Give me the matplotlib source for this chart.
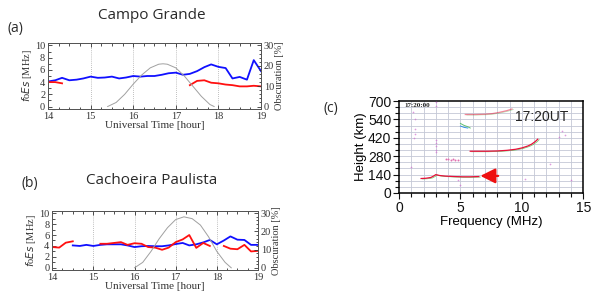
import numpy as np
import matplotlib
matplotlib.use("Agg")
import matplotlib.pyplot as plt
from matplotlib.ticker import MultipleLocator

SERIF = "Liberation Serif"
SANS = "Liberation Sans"
TITLE = "Open Sans"

# ── Panel (a): Campo Grande ───────────────────────────────────────────────────
t_a_blue = [14.0, 14.17, 14.33, 14.5, 14.67, 14.83, 15.0, 15.17, 15.33, 15.5,
            15.67, 15.83, 16.0, 16.17, 16.33, 16.5, 16.67, 16.83, 17.0, 17.17,
            17.33, 17.5, 17.67, 17.83, 18.0, 18.17, 18.33, 18.5, 18.67, 18.83, 19.0]
fo_a_blue = [4.1, 4.3, 4.7, 4.3, 4.4, 4.6, 4.9, 4.7, 4.75, 4.9,
             4.6, 4.75, 5.0, 4.9, 5.0, 5.0, 5.2, 5.45, 5.55, 5.2,
             5.35, 5.8, 6.45, 6.9, 6.5, 6.3, 4.6, 4.85, 4.4, 7.6, 5.8]
t_a_red1 = [14.0, 14.17, 14.33]
fo_a_red1 = [4.0, 4.0, 3.8]
t_a_red2 = [17.33, 17.5, 17.67, 17.83, 18.0, 18.17, 18.33, 18.5, 18.67, 18.83, 19.0]
fo_a_red2 = [3.5, 4.2, 4.3, 3.9, 3.8, 3.6, 3.5, 3.3, 3.3, 3.4, 3.3]
t_a_obs = [15.4, 15.6, 15.8, 16.0, 16.2, 16.4, 16.6, 16.7, 16.8, 17.0,
           17.2, 17.4, 17.6, 17.8, 17.9]
obs_a = [0, 2, 6, 11, 15.5, 19, 20.8, 21, 20.8, 19,
         15, 10, 5, 1, 0]

# ── Panel (b): Cachoeira Paulista ─────────────────────────────────────────────
t_b_red1 = [14.0, 14.17, 14.33, 14.5]
fo_b_red1 = [3.8, 3.7, 4.6, 4.85]
t_b_red2 = [15.17, 15.33, 15.5, 15.67, 15.83, 16.0, 16.17, 16.33, 16.5, 16.67,
            16.83, 17.0, 17.17, 17.33, 17.5, 17.67, 17.83]
fo_b_red2 = [4.4, 4.4, 4.55, 4.7, 4.2, 4.5, 4.4, 3.8, 3.7, 3.3,
             3.7, 4.7, 5.2, 6.0, 3.65, 4.55, 4.0]
t_b_red3 = [18.17, 18.33, 18.5, 18.67, 18.83, 19.0]
fo_b_red3 = [4.0, 3.5, 3.4, 4.2, 3.0, 3.1]
t_b_blue = [14.5, 14.67, 14.83, 15.0, 15.17, 15.33, 15.5, 15.67, 15.83, 16.0,
            16.17, 16.33, 16.5, 16.67, 16.83, 17.0, 17.17, 17.33, 17.5, 17.67,
            17.83, 18.0, 18.17, 18.33, 18.5, 18.67, 18.83, 19.0]
fo_b_blue = [4.1, 4.0, 4.2, 4.0, 4.2, 4.3, 4.3, 4.3, 4.1, 3.8,
             3.95, 4.0, 3.95, 3.95, 4.1, 4.35, 4.55, 4.1, 4.3, 4.65,
             5.1, 4.3, 5.0, 5.75, 5.15, 5.1, 4.2, 4.2]
t_b_obs = [16.0, 16.2, 16.4, 16.6, 16.8, 17.0, 17.2, 17.4, 17.6, 17.8,
           18.0, 18.2, 18.35]
obs_b = [0, 3, 9, 16, 22, 26.5, 28, 27, 23.5, 17,
         9, 3, 0]

# ── Panel (c): ionogram traces (frequency MHz, virtual height km) ─────────────
es_f = [1.8, 2.2, 2.6, 2.8, 3.0, 3.3, 3.8, 4.5, 5.2, 5.8, 6.5]
es_h = [110, 112, 118, 128, 140, 133, 128, 125, 123, 123, 125]
f_f = [5.8, 6.5, 7.2, 8.0, 8.8, 9.5, 10.0, 10.5, 10.8, 11.1, 11.3]
f_h = [318, 318, 318, 320, 325, 333, 343, 358, 372, 392, 410]
top_f = [5.4, 6.2, 7.0, 7.6, 8.2, 8.8, 9.2]
top_h = [598, 598, 600, 605, 615, 628, 640]
hop_f = [5.0, 5.3, 5.6, 5.8]
hop_h = [530, 515, 505, 495]
hop2_f = [5.0, 5.3, 5.6]
hop2_h = [510, 500, 495]
blob_f = [3.8, 4.0, 4.2, 4.4, 4.6, 4.8]
blob_h = [255, 258, 252, 256, 250, 248]
noise_f = [1.2, 1.3, 1.3, 1.3, 3.0, 3.0, 3.0, 3.0, 3.0, 3.0, 1.0, 1.1, 13.0,
           13.3, 13.5, 14.0, 4.8, 10.3, 12.3, 3.0, 5.0]
noise_h = [420, 450, 490, 560, 310, 330, 360, 380, 400, 690, 200, 620, 430,
           470, 440, 100, 100, 110, 220, 660, 60]

fig = plt.figure(figsize=(6.0, 3.01), dpi=100, facecolor="white")


def station_panel(rect, title, tag, title_y, tag_xy, blue, reds, obs):
    ax = fig.add_axes(rect)
    ax2 = ax.twinx()
    ax.plot(*blue, color="#1010ff", lw=1.3, zorder=4)
    for r in reds:
        ax.plot(*r, color="#ff1010", lw=1.3, zorder=4)
    ax2.plot(*obs, color="#a0a0a0", lw=0.7)
    for xv in [15, 16, 17, 18]:
        ax.axvline(xv, color="#aaaaaa", lw=0.6, ls=(0, (1, 1.5)), zorder=1)
    ax.set_xlim(14, 19)
    ax.set_ylim(-0.4, 10.4)
    ax2.set_ylim(-1.2, 31.2)
    ax.set_xticks([14, 15, 16, 17, 18, 19])
    ax.xaxis.set_minor_locator(MultipleLocator(0.25))
    ax.set_yticks([0, 2, 4, 6, 8, 10])
    ax.yaxis.set_minor_locator(MultipleLocator(1))
    ax2.set_yticks([0, 10, 20, 30])
    ax2.yaxis.set_minor_locator(MultipleLocator(2))
    for a in (ax, ax2):
        a.tick_params(which="both", direction="in", labelsize=7.5, pad=2,
                      colors="#333333", width=0.6)
        a.tick_params(which="major", length=3)
        a.tick_params(which="minor", length=1.8)
        for s in a.spines.values():
            s.set_color("#555555")
            s.set_linewidth(0.7)
        for lbl in a.get_xticklabels() + a.get_yticklabels():
            lbl.set_family(SERIF)
    ax.tick_params(axis="x", which="both", top=True)
    ax.set_xlabel("Universal Time [hour]", family=SERIF, fontsize=8,
                  color="#333333", labelpad=0)
    ax.set_ylabel("$f$o$Es$ [MHz]", family=SERIF, fontsize=7.5,
                  color="#333333", labelpad=1)
    ax2.set_ylabel("Obscuration [%]", family=SERIF, fontsize=7.5,
                   color="#333333", labelpad=1)
    fig.text(0.253, title_y, title, family=TITLE, fontsize=11,
             color="#2a2a2a", ha="center", va="center")
    fig.text(tag_xy[0], tag_xy[1], tag, family=TITLE, fontsize=10,
             color="#2a2a2a", ha="left", va="center")
    return ax


station_panel([0.08, 0.638, 0.355, 0.219], "Campo Grande", "(a)",
              0.95, (0.012, 0.905),
              (t_a_blue, fo_a_blue),
              [(t_a_red1, fo_a_red1), (t_a_red2, fo_a_red2)],
              (t_a_obs, obs_a))

station_panel([0.087, 0.103, 0.343, 0.196], "Cachoeira Paulista", "(b)",
              0.40, (0.035, 0.39),
              (t_b_blue, fo_b_blue),
              [(t_b_red1, fo_b_red1), (t_b_red2, fo_b_red2), (t_b_red3, fo_b_red3)],
              (t_b_obs, obs_b))

# ── Panel (c) ─────────────────────────────────────────────────────────────────
axc = fig.add_axes([0.665, 0.359, 0.307, 0.305])
axc.set_xlim(0, 15)
axc.set_ylim(0, 700)
for xv in np.arange(1, 15):
    axc.axvline(xv, color="#c4c8d6", lw=0.6, zorder=0)
for yv in np.arange(1, 15) * 140 / 3:
    axc.axhline(yv, color="#c4c8d6", lw=0.6, zorder=0)

for fx, hy, a in [(es_f, es_h, 1.0), (f_f, f_h, 1.0), (top_f, top_h, 0.5)]:
    axc.plot(fx, hy, color="#e8103a", lw=0.9, alpha=a, zorder=3)
    axc.plot(np.array(fx) + 0.12, np.array(hy) - 4, color="#40c040",
             lw=0.5, alpha=0.8 * a, zorder=2)
axc.plot(hop_f, hop_h, color="#60c070", lw=0.7, zorder=3)
axc.plot(hop2_f, hop2_h, color="#3090e0", lw=0.7, zorder=3)
axc.scatter(blob_f, blob_h, s=2, color="#e070b0", lw=0, zorder=3)
axc.scatter(noise_f, noise_h, s=1.5, color="#d070d0", lw=0, alpha=0.7, zorder=3)

axc.annotate("", xy=(6.4, 130), xytext=(8.3, 130),
             arrowprops=dict(arrowstyle="-|>,head_length=0.9,head_width=0.45",
                             color="#ee1111", lw=1.6))
axc.text(0.92, 0.83, "17:20UT", transform=axc.transAxes, family=SANS,
         fontsize=10, color="#222222", ha="right", va="center")
axc.text(0.03, 0.95, "17:20:00", transform=axc.transAxes, family=SERIF,
         fontsize=5, fontweight="bold", color="#222222", ha="left", va="center")

axc.set_xticks([0, 5, 10, 15])
axc.xaxis.set_minor_locator(MultipleLocator(1))
axc.set_yticks([0, 140, 280, 420, 560, 700])
axc.set_yticklabels(["0", "140", "280", "420", "540", "700"])
axc.yaxis.set_minor_locator(MultipleLocator(140 / 3))
axc.tick_params(which="both", direction="out", labelsize=10, width=0.8,
                colors="#111111", pad=1.5)
axc.tick_params(which="major", length=4)
axc.tick_params(which="minor", length=3)
for lbl in axc.get_xticklabels() + axc.get_yticklabels():
    lbl.set_family(SANS)
for s in axc.spines.values():
    s.set_linewidth(1.1)
axc.set_xlabel("Frequency (MHz)", family=SANS, fontsize=9.5, labelpad=1)
axc.set_ylabel("Height (km)", family=SANS, fontsize=9.5, labelpad=1)
fig.text(0.54, 0.64, "(c)", family=TITLE, fontsize=10, color="#2a2a2a",
         ha="left", va="center")

fig.savefig("out.png", dpi=100, facecolor="white")
